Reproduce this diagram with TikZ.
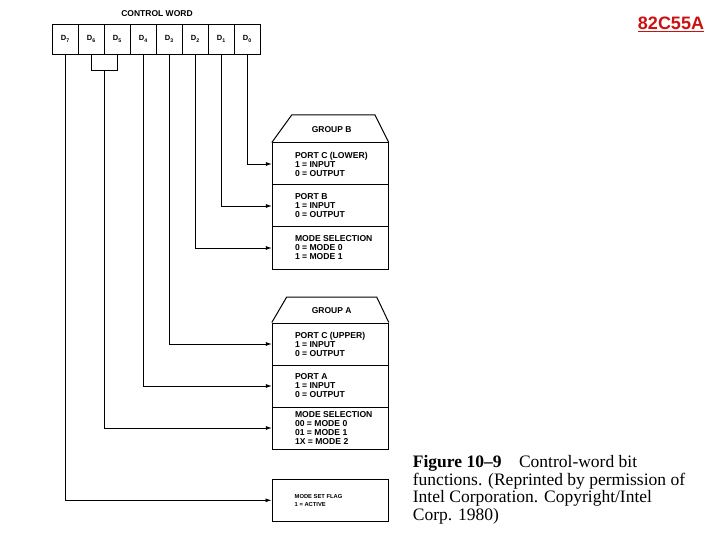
\documentclass[tikz,border=0pt]{standalone}
\usepackage{fontspec}
\setmainfont{Liberation Serif}
\setsansfont{Liberation Sans}
\usetikzlibrary{positioning,arrows.meta}
\definecolor{PartRed}{RGB}{204,17,17}

\begin{document}
\begin{tikzpicture}[
    x=1pt, y=-1pt,
    cell/.style={
      draw,
      line width=0.9pt,
      minimum width=26pt,
      minimum height=30pt,
      inner sep=0pt,
      font=\sffamily\bfseries\fontsize{7.5}{8}\selectfont
    },
    sect/.style={
      draw,
      line width=1pt,
      minimum width=116pt,
      minimum height=42pt,
      inner sep=0pt
    },
    txt/.style={
      align=left,
      inner sep=0pt,
      font=\sffamily\bfseries\fontsize{8.6}{9}\selectfont
    },
    hdr/.style={
      inner sep=0pt,
      font=\sffamily\bfseries\fontsize{8.5}{9}\selectfont
    },
    wire/.style={
      -{Latex[length=6pt, width=4pt]},
      line width=0.8pt
    }
  ]
    \useasboundingbox (0,0) rectangle (720,540);

    % control word cells
    \node[hdr, anchor=base] (cw) at (157,17) {CONTROL WORD};
    \foreach \b [count=\k from 0] in {7,6,...,0}
      \node[cell] (d\b) at ({65.3+26*\k},39) {D\textsubscript{\b}};

    % group B
    \node[sect] (pcl) at (330.3,164) {};
    \node[sect] (pb)  at (330.3,206) {};
    \node[sect] (msb) at (330.3,248) {};
    \draw[line width=1pt] (pcl.north west) -- (291.7,115) -- (375,115) -- (pcl.north east);
    \node[hdr] (grpb) at (331.7,130) {GROUP B};
    \node[txt, right=23pt of pcl.west] (tpcl) {PORT C (LOWER)\\1 = INPUT\\0 = OUTPUT};
    \node[txt, right=23pt of pb.west] (tpb) {PORT B\\1 = INPUT\\0 = OUTPUT};
    \node[txt, right=23pt of msb.west] (tmsb) {MODE SELECTION\\0 = MODE 0\\1 = MODE 1};

    % group A
    \node[sect] (pcu) at (330.3,344) {};
    \node[sect] (pa)  at (330.3,386) {};
    \node[sect] (msa) at (330.3,428) {};
    \draw[line width=1pt] (pcu.north west) -- (286.7,297) -- (376.7,297) -- (pcu.north east);
    \node[hdr] (grpa) at (331.7,311) {GROUP A};
    \node[txt, right=23pt of pcu.west] (tpcu) {PORT C (UPPER)\\1 = INPUT\\0 = OUTPUT};
    \node[txt, right=23pt of pa.west] (tpa) {PORT A\\1 = INPUT\\0 = OUTPUT};
    \node[txt, right=23pt of msa.west] (tmsa) {MODE SELECTION\\00 = MODE 0\\01 = MODE 1\\1X = MODE 2};

    % mode set flag
    \node[sect] (flag) at (330,500.3) {};
    \node[txt, right=23pt of flag.west, font=\sffamily\bfseries\fontsize{5.8}{7.6}\selectfont] (tflag) {MODE SET FLAG\\1 = ACTIVE};

    % bit connections
    \draw[wire] (d0.south) |- (pcl.west);
    \draw[wire] (d1.south) |- (pb.west);
    \draw[wire] (d2.south) |- (msb.west);
    \draw[wire] (d3.south) |- (pcu.west);
    \draw[wire] (d4.south) |- (pa.west);
    \coordinate (brk) at (104.3,70.7);
    \draw[line width=0.8pt] (d6.south) |- (brk) -| (d5.south);
    \draw[wire] (brk) |- (msa.west);
    \draw[wire] (d7.south) |- (flag.west);

    % caption and part number
    \node[anchor=base west, align=left, inner sep=0pt,
          font=\fontsize{17.5}{17.8}\selectfont] (cap) at (412.7,520.7)
      {\textbf{Figure 10--9}\quad Control-word bit\\
       functions. (Reprinted by permission of\\
       Intel Corporation. Copyright/Intel\\
       Corp. 1980)};
    \node[anchor=base, text=PartRed, inner sep=0pt,
          font=\sffamily\bfseries\fontsize{18}{20}\selectfont] (part) at (671,29.3) {\underline{82C55A}};

  \end{tikzpicture}
\end{document}
